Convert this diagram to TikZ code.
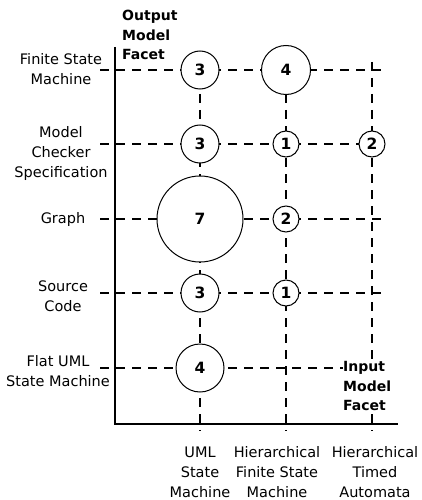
\documentclass[tikz,border=0pt]{standalone}
\usepackage{fontspec}
\setmainfont{DejaVu Sans}
\begin{document}
\begin{tikzpicture}[x=1pt,y=-1pt,
  grid/.style={line width=2.4pt,dash pattern=on 9pt off 7pt},
  axis/.style={line width=2.8pt},
  bubble/.style={circle,draw,fill=white,line width=1pt,inner sep=0pt,
    font=\fontsize{15.5}{18}\selectfont\bfseries},
  lab/.style={align=center,inner sep=0pt,font=\fontsize{14.5}{20}\selectfont},
  blab/.style={align=left,inner sep=0pt,font=\fontsize{14}{19.5}\selectfont\bfseries}]
\useasboundingbox (0,0) rectangle (422,500);
% row and column end points
\foreach \n/\y in {1/70,2/144,3/219,4/293,5/368}{
  \coordinate (L\n) at (100,\y);
  \coordinate (R\n) at (385,\y);}
\coordinate (E5) at (343,368);
\foreach \n/\x in {1/200,2/286,3/372}{
  \coordinate (T\n) at (\x,62);
  \coordinate (B\n) at (\x,431);}
% dashed grid
\foreach \n in {1,2,3,4}{\draw[grid] (L\n) -- (R\n);}
\draw[grid] (L5) -- (E5);
\foreach \n in {1,2,3}{\draw[grid] (T\n) -- (B\n);}
% axes
\coordinate (Ytop) at (115,47);
\coordinate (O) at (115,424);
\coordinate (Xend) at (398,424);
\draw[axis] (Ytop) -- (O) -- (Xend);
% bubbles
\node[bubble,minimum size=38pt] (c11) at (200,70) {3};
\node[bubble,minimum size=49pt] (c12) at (286,70) {4};
\node[bubble,minimum size=38pt] (c21) at (200,144) {3};
\node[bubble,minimum size=26pt] (c22) at (286,144) {1};
\node[bubble,minimum size=26pt] (c23) at (372,144) {2};
\node[bubble,minimum size=86pt] (c31) at (200,219) {7};
\node[bubble,minimum size=26pt] (c32) at (286,219) {2};
\node[bubble,minimum size=38pt] (c41) at (200,293) {3};
\node[bubble,minimum size=26pt] (c42) at (286,293) {1};
\node[bubble,minimum size=48pt] (c51) at (200,368) {4};
% row labels
\node[lab] (r1) at (61,69) {Finite State\\Machine};
\node[lab] (r2) at (61,153) {Model\\Checker\\Specification};
\node[lab] (r3) at (63,219) {Graph};
\node[lab] (r4) at (63,296) {Source\\Code};
\node[lab] (r5) at (58,371) {Flat UML\\State Machine};
% column labels
\node[lab] (k1) at (200,472) {UML\\State\\Machine};
\node[lab] (k2) at (277,472) {Hierarchical\\Finite State\\Machine};
\node[lab] (k3) at (375,472) {Hierarchical\\Timed\\Automata};
% axis titles
\node[blab,anchor=west] (yt) at (122,35) {Output\\Model\\Facet};
\node[blab,anchor=west,fill=white,inner ysep=2pt] (xt) at (343,386) {Input\\Model\\Facet};
\end{tikzpicture}
\end{document}
